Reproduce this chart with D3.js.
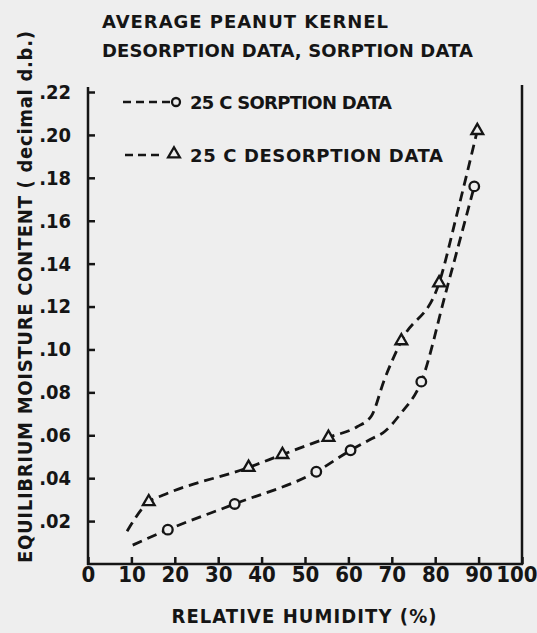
<!DOCTYPE html>
<html>
<head>
<meta charset="utf-8">
<script src="https://cdn.jsdelivr.net/npm/d3@7"></script>
<style>
  body { margin: 0; background: #eeeeee; }
  svg { display: block; }
  text { fill: #151515; }
</style>
</head>
<body>
<div id="container"></div>
<script>
// marker readings (RH %, moisture decimal d.b.)
const sorptionRH = [18.4, 33.8, 52.6, 60.5, 76.8, 89.0];
const sorptionMC = [0.016, 0.028, 0.043, 0.053, 0.085, 0.176];
const desorptionRH = [14.0, 37.0, 44.8, 55.4, 72.2, 80.9, 89.7];
const desorptionMC = [0.029, 0.045, 0.051, 0.059, 0.104, 0.131, 0.202];

// hand drawn curves through the points
const sorptionCurveRH = [10.3, 18.4, 33.8, 52.6, 60.5, 65.0, 68.5, 72.0, 76.8, 82.5, 89.0];
const sorptionCurveMC = [0.0088, 0.016, 0.028, 0.043, 0.053, 0.058, 0.062, 0.070, 0.085, 0.127, 0.176];
const desorptionCurveRH = [9.0, 14.0, 17.2, 37.0, 44.8, 55.4, 62.0, 65.3, 68.3, 72.2, 80.9, 85.0, 89.7];
const desorptionCurveMC = [0.0153, 0.029, 0.032, 0.045, 0.051, 0.059, 0.064, 0.069, 0.086, 0.104, 0.131, 0.163, 0.202];

const xTicks = [0, 10, 20, 30, 40, 50, 60, 70, 80, 90, 100];
const yTicks = [0.02, 0.04, 0.06, 0.08, 0.10, 0.12, 0.14, 0.16, 0.18, 0.20, 0.22];
const yTickLabels = [".02", ".04", ".06", ".08", ".10", ".12", ".14", ".16", ".18", ".20", ".22"];

const w = 537;
const h = 633;
const ink = "#151515";
const paper = "#eeeeee";
const narrow = "'Liberation Sans Narrow', 'DejaVu Sans Condensed', sans-serif";
const letter = "'DejaVu Sans', sans-serif";
const cond = "'DejaVu Sans Condensed', 'DejaVu Sans', sans-serif";

const x = d3.scaleLinear().domain([0, 100]).range([88, 522]);
const y = d3.scaleLinear().domain([0, 0.22]).range([564, 92]);

const svg = d3.select("#container").append("svg")
  .attr("width", w).attr("height", h);

// titles
svg.append("text").attr("x", 102).attr("y", 28)
  .attr("font-family", letter).attr("font-size", 18).attr("font-weight", "bold")
  .attr("textLength", 286).attr("lengthAdjust", "spacing")
  .text("AVERAGE  PEANUT  KERNEL");
svg.append("text").attr("x", 102).attr("y", 57)
  .attr("font-family", letter).attr("font-size", 18).attr("font-weight", "bold")
  .attr("textLength", 371).attr("lengthAdjust", "spacing")
  .text("DESORPTION DATA, SORPTION DATA");

// frame: left axis, bottom axis, right line
const frame = svg.append("g").attr("stroke", ink).attr("stroke-width", 2.5).attr("fill", "none");
frame.append("line").attr("x1", x(0)).attr("x2", x(0)).attr("y1", 87).attr("y2", y(0) + 1);
frame.append("line").attr("x1", x(0) - 1).attr("x2", x(100) + 1).attr("y1", y(0)).attr("y2", y(0));
frame.append("line").attr("x1", x(100)).attr("x2", x(100)).attr("y1", 85).attr("y2", y(0) + 1);

const xAxis = d3.axisBottom(x).tickValues(xTicks).tickSizeInner(-7).tickSizeOuter(0).tickPadding(1);
const gx = svg.append("g").attr("transform", `translate(0,${y(0)})`).call(xAxis);
gx.select(".domain").remove();
gx.selectAll(".tick line").attr("stroke", ink).attr("stroke-width", 2.5);
gx.selectAll(".tick text").attr("font-family", narrow).attr("font-size", 22)
  .attr("font-weight", "bold").attr("fill", ink).attr("dy", "0.78em");
gx.selectAll(".tick text").filter((d) => d === 100)
  .attr("text-anchor", "end").attr("x", 15);

const yAxis = d3.axisLeft(y).tickValues(yTicks).tickFormat((d, i) => yTickLabels[i])
  .tickSizeInner(-7).tickSizeOuter(0).tickPadding(17);
const gy = svg.append("g").attr("transform", `translate(${x(0)},0)`).call(yAxis);
gy.select(".domain").remove();
gy.selectAll(".tick line").attr("stroke", ink).attr("stroke-width", 2.5);
gy.selectAll(".tick text").attr("font-family", narrow).attr("font-size", 20)
  .attr("font-weight", "bold").attr("fill", ink);

// axis titles
svg.append("text").attr("x", 304).attr("y", 623).attr("text-anchor", "middle")
  .attr("font-family", cond).attr("font-size", 20).attr("font-weight", "bold")
  .attr("textLength", 265).attr("lengthAdjust", "spacing")
  .text("RELATIVE  HUMIDITY (%)");
svg.append("text").attr("transform", "translate(32,297) rotate(-90)")
  .attr("text-anchor", "middle")
  .attr("font-family", cond).attr("font-size", 20).attr("font-weight", "bold")
  .attr("textLength", 532).attr("lengthAdjust", "spacing")
  .text("EQUILIBRIUM  MOISTURE  CONTENT  ( decimal d.b.)");

// curves
const line = d3.line().x((d) => x(d[0])).y((d) => y(d[1])).curve(d3.curveMonotoneX);
const sorptionCurve = sorptionCurveRH.map((v, i) => [v, sorptionCurveMC[i]]);
const desorptionCurve = desorptionCurveRH.map((v, i) => [v, desorptionCurveMC[i]]);

[sorptionCurve, desorptionCurve].forEach((c) => {
  svg.append("path").datum(c).attr("d", line)
    .attr("fill", "none").attr("stroke", ink).attr("stroke-width", 2.8)
    .attr("stroke-dasharray", "10,6");
});

// markers
svg.append("g").selectAll("circle")
  .data(sorptionRH.map((v, i) => [v, sorptionMC[i]]))
  .enter().append("circle")
  .attr("cx", (d) => x(d[0])).attr("cy", (d) => y(d[1])).attr("r", 4.8)
  .attr("fill", paper).attr("stroke", ink).attr("stroke-width", 2.3);

const tri = d3.symbol().type(d3.symbolTriangle).size(60);
svg.append("g").selectAll("path")
  .data(desorptionRH.map((v, i) => [v, desorptionMC[i]]))
  .enter().append("path")
  .attr("d", tri)
  .attr("transform", (d) => `translate(${x(d[0])},${y(d[1])})`)
  .attr("fill", paper).attr("stroke", ink).attr("stroke-width", 2.3);

// legend
const legend = svg.append("g");
legend.append("line").attr("x1", 123).attr("x2", 170).attr("y1", 102).attr("y2", 102)
  .attr("stroke", ink).attr("stroke-width", 2.5).attr("stroke-dasharray", "8,5");
legend.append("circle").attr("cx", 176).attr("cy", 102).attr("r", 4)
  .attr("fill", paper).attr("stroke", ink).attr("stroke-width", 2.3);
legend.append("text").attr("x", 190).attr("y", 109)
  .attr("font-family", letter).attr("font-size", 18).attr("font-weight", "bold")
  .attr("textLength", 202).attr("lengthAdjust", "spacing")
  .text("25 C SORPTION  DATA");

legend.append("line").attr("x1", 125).attr("x2", 162).attr("y1", 155).attr("y2", 155)
  .attr("stroke", ink).attr("stroke-width", 2.5).attr("stroke-dasharray", "8,5");
legend.append("path").attr("d", tri).attr("transform", "translate(174,154)")
  .attr("fill", paper).attr("stroke", ink).attr("stroke-width", 2.3);
legend.append("text").attr("x", 190).attr("y", 162)
  .attr("font-family", letter).attr("font-size", 18).attr("font-weight", "bold")
  .attr("textLength", 253).attr("lengthAdjust", "spacing")
  .text("25 C DESORPTION  DATA");
</script>
</body>
</html>
